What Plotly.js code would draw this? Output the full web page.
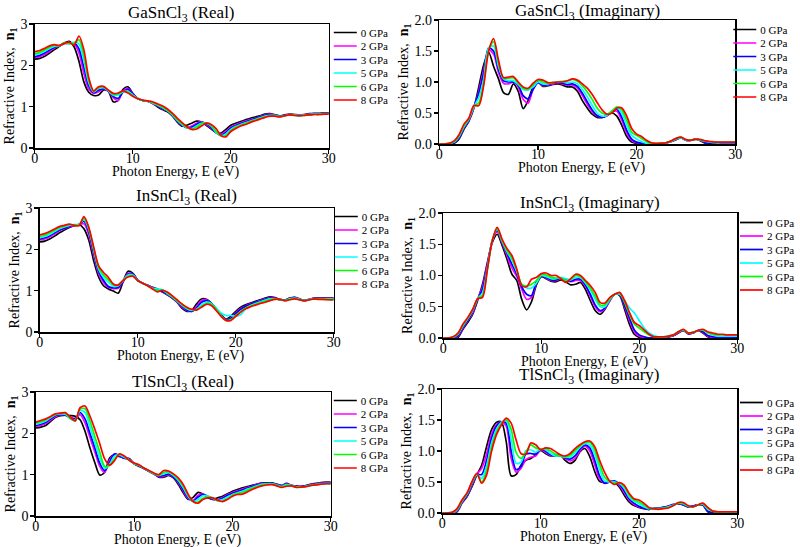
<!DOCTYPE html>
<html><head><meta charset="utf-8">
<script src="https://cdn.plot.ly/plotly-3.0.1.min.js"></script>
<style>html,body{margin:0;padding:0;background:#fff}#chart{width:800px;height:547px}</style>
</head><body><div id="chart"></div>
<script>
// Photon energy grid (eV)
const energy = [0,0.5,1,1.5,2,2.5,3,3.5,4,4.5,5,5.5,6,6.5,7,7.5,8,8.5,9,9.5,10,10.5,11,11.5,12,12.5,13,13.5,14,14.5,15,15.5,16,16.5,17,17.5,18,18.5,19,19.5,20,20.5,21,21.5,22,22.5,23,23.5,24,24.5,25,25.5,26,26.5,27,27.5,28,28.5,29,29.5,30];
const pressures = ['0 GPa','2 GPa','3 GPa','5 GPa','6 GPa','8 GPa'];
const panelTitles = ['GaSnCl<sub>3</sub> (Real)','GaSnCl<sub>3</sub> (Imaginary)','InSnCl<sub>3</sub> (Real)','InSnCl<sub>3</sub> (Imaginary)','TlSnCl<sub>3</sub> (Real)','TlSnCl<sub>3</sub> (Imaginary)'];
const xTitle = 'Photon Energy, E (eV)';
const yTitle = 'Refractive Index,  <b>n<sub>1</sub></b>';

// GaSnCl3 real part
const gaRe0 = [2.15,2.17,2.22,2.30,2.38,2.46,2.54,2.58,2.45,2.10,1.60,1.35,1.27,1.28,1.40,1.37,1.12,1.15,1.42,1.48,1.32,1.20,1.15,1.13,1.08,1.00,0.93,0.88,0.78,0.64,0.53,0.55,0.60,0.65,0.63,0.55,0.46,0.38,0.36,0.45,0.55,0.60,0.64,0.68,0.72,0.75,0.78,0.82,0.83,0.80,0.78,0.80,0.82,0.81,0.80,0.81,0.83,0.84,0.84,0.85,0.85];
const gaRe2 = [2.19,2.21,2.26,2.34,2.42,2.47,2.53,2.55,2.52,2.30,1.80,1.42,1.32,1.36,1.42,1.38,1.22,1.15,1.38,1.44,1.32,1.20,1.15,1.13,1.08,1.02,0.95,0.90,0.80,0.66,0.55,0.50,0.53,0.60,0.63,0.57,0.48,0.38,0.33,0.40,0.50,0.56,0.61,0.65,0.69,0.72,0.76,0.80,0.82,0.80,0.77,0.79,0.81,0.80,0.79,0.80,0.82,0.83,0.83,0.84,0.84];
const gaRe3 = [2.21,2.24,2.30,2.37,2.44,2.48,2.53,2.53,2.54,2.40,1.95,1.50,1.34,1.40,1.43,1.38,1.25,1.20,1.35,1.42,1.31,1.20,1.15,1.13,1.09,1.03,0.96,0.90,0.80,0.67,0.56,0.49,0.50,0.57,0.62,0.59,0.50,0.37,0.31,0.37,0.48,0.54,0.59,0.63,0.67,0.71,0.75,0.79,0.81,0.80,0.77,0.79,0.81,0.80,0.79,0.80,0.81,0.82,0.82,0.83,0.83];
const gaRe5 = [2.25,2.29,2.34,2.41,2.46,2.48,2.54,2.52,2.56,2.52,2.12,1.58,1.36,1.44,1.46,1.38,1.28,1.28,1.36,1.37,1.28,1.20,1.15,1.13,1.09,1.04,0.98,0.91,0.81,0.68,0.57,0.49,0.47,0.53,0.60,0.60,0.53,0.38,0.30,0.34,0.45,0.52,0.57,0.61,0.65,0.69,0.73,0.77,0.79,0.79,0.76,0.78,0.81,0.80,0.79,0.80,0.81,0.82,0.82,0.83,0.83];
const gaRe6 = [2.28,2.32,2.37,2.44,2.48,2.47,2.55,2.53,2.53,2.62,2.25,1.64,1.37,1.46,1.48,1.40,1.30,1.31,1.37,1.35,1.26,1.19,1.15,1.13,1.10,1.05,0.99,0.92,0.82,0.70,0.59,0.50,0.46,0.50,0.58,0.61,0.55,0.40,0.29,0.30,0.42,0.50,0.55,0.60,0.64,0.68,0.72,0.76,0.78,0.78,0.76,0.78,0.80,0.79,0.78,0.79,0.80,0.81,0.81,0.82,0.82];
const gaRe8 = [2.33,2.36,2.41,2.47,2.50,2.48,2.53,2.56,2.49,2.71,2.38,1.70,1.38,1.48,1.49,1.40,1.32,1.33,1.38,1.33,1.25,1.19,1.16,1.14,1.12,1.07,1.02,0.95,0.85,0.73,0.62,0.52,0.45,0.46,0.53,0.60,0.57,0.47,0.30,0.27,0.40,0.47,0.53,0.57,0.62,0.66,0.70,0.74,0.77,0.77,0.75,0.78,0.80,0.79,0.78,0.79,0.80,0.81,0.81,0.82,0.82];

// GaSnCl3 imaginary part
const gaIm0 = [0,0,0,0.01,0.08,0.24,0.37,0.58,0.92,1.28,1.48,1.25,1.05,0.83,0.80,0.97,0.85,0.57,0.70,0.92,1.00,0.93,0.94,0.96,0.97,0.95,0.92,0.92,0.85,0.70,0.58,0.48,0.43,0.43,0.46,0.50,0.45,0.30,0.12,0.03,0.01,0,0,0,0,0.01,0.02,0.04,0.07,0.10,0.06,0.06,0.08,0.05,0.01,0,0,0,0,0,0];
const gaIm2 = [0,0,0,0.02,0.10,0.26,0.38,0.58,0.85,1.20,1.52,1.45,1.15,0.98,0.97,1.00,0.92,0.72,0.66,0.88,0.99,0.94,0.95,0.97,0.98,0.97,0.95,0.95,0.90,0.78,0.64,0.52,0.45,0.43,0.46,0.52,0.53,0.38,0.18,0.06,0.02,0.01,0,0,0,0.01,0.02,0.04,0.08,0.10,0.06,0.06,0.08,0.06,0.02,0.01,0.01,0.01,0.01,0.01,0.01];
const gaIm3 = [0,0,0,0.02,0.10,0.27,0.39,0.60,0.82,1.15,1.55,1.50,1.20,1.02,1.00,1.00,0.95,0.78,0.73,0.88,0.99,0.95,0.96,0.98,0.99,0.98,0.96,0.97,0.93,0.82,0.68,0.55,0.46,0.43,0.46,0.53,0.56,0.43,0.22,0.08,0.03,0.01,0,0,0,0.01,0.02,0.04,0.08,0.10,0.06,0.06,0.08,0.06,0.02,0.01,0.01,0.01,0.01,0.01,0.01];
const gaIm5 = [0,0,0.01,0.03,0.12,0.28,0.40,0.60,0.75,1.05,1.55,1.58,1.25,1.05,1.02,1.02,0.96,0.88,0.87,0.92,1.00,0.97,0.97,0.99,1.00,1.00,0.99,1.00,0.97,0.88,0.76,0.62,0.50,0.45,0.46,0.53,0.58,0.50,0.30,0.14,0.08,0.04,0.01,0,0,0.01,0.02,0.04,0.08,0.10,0.06,0.06,0.08,0.06,0.04,0.03,0.02,0.02,0.02,0.02,0.02];
const gaIm6 = [0,0,0.01,0.04,0.14,0.30,0.41,0.61,0.66,0.98,1.52,1.65,1.30,1.06,1.06,1.07,0.98,0.90,0.89,0.96,1.03,1.00,0.98,0.99,1.00,1.01,1.02,1.04,1.01,0.94,0.84,0.72,0.58,0.50,0.48,0.53,0.60,0.55,0.38,0.19,0.14,0.09,0.04,0.01,0.01,0.01,0.02,0.05,0.09,0.11,0.07,0.06,0.08,0.07,0.05,0.03,0.03,0.03,0.03,0.03,0.03];
const gaIm8 = [0,0,0.01,0.05,0.15,0.32,0.42,0.62,0.62,0.95,1.50,1.70,1.35,1.07,1.08,1.09,1.00,0.92,0.90,0.98,1.04,1.03,0.99,0.99,1.00,1.00,1.02,1.05,1.03,0.97,0.90,0.80,0.67,0.55,0.48,0.50,0.58,0.58,0.45,0.25,0.16,0.12,0.06,0.02,0.01,0.01,0.02,0.05,0.09,0.11,0.07,0.06,0.08,0.07,0.05,0.04,0.03,0.03,0.03,0.03,0.03];

// InSnCl3 real part
const inRe0 = [2.18,2.20,2.25,2.32,2.40,2.47,2.53,2.57,2.60,2.50,2.22,1.72,1.33,1.12,1.04,0.99,0.94,1.22,1.47,1.42,1.25,1.18,1.13,1.08,1.04,0.97,0.90,0.82,0.72,0.58,0.50,0.52,0.68,0.80,0.79,0.70,0.56,0.42,0.31,0.38,0.50,0.60,0.66,0.70,0.74,0.78,0.82,0.85,0.83,0.79,0.77,0.82,0.84,0.80,0.76,0.79,0.82,0.82,0.82,0.82,0.82];
const inRe2 = [2.23,2.25,2.30,2.37,2.45,2.50,2.55,2.58,2.60,2.62,2.35,1.85,1.42,1.20,1.08,1.05,1.06,1.22,1.42,1.40,1.25,1.18,1.13,1.08,1.02,0.98,0.91,0.83,0.73,0.61,0.52,0.50,0.62,0.76,0.78,0.68,0.55,0.40,0.30,0.34,0.47,0.57,0.63,0.68,0.72,0.76,0.80,0.83,0.82,0.78,0.77,0.81,0.83,0.79,0.76,0.79,0.81,0.81,0.81,0.81,0.81];
const inRe3 = [2.25,2.28,2.33,2.40,2.47,2.51,2.56,2.59,2.60,2.68,2.42,1.92,1.47,1.25,1.10,1.07,1.08,1.22,1.40,1.40,1.25,1.18,1.13,1.07,1.02,0.98,0.92,0.84,0.74,0.63,0.53,0.50,0.58,0.72,0.76,0.70,0.56,0.40,0.29,0.33,0.45,0.55,0.62,0.67,0.71,0.75,0.79,0.82,0.81,0.78,0.77,0.81,0.83,0.79,0.76,0.79,0.81,0.81,0.81,0.81,0.81];
const inRe5 = [2.28,2.31,2.36,2.43,2.50,2.54,2.58,2.60,2.60,2.72,2.48,1.98,1.52,1.32,1.20,1.10,1.12,1.25,1.38,1.38,1.24,1.18,1.12,1.06,1.04,1.02,0.93,0.85,0.75,0.65,0.56,0.52,0.55,0.66,0.72,0.69,0.58,0.46,0.40,0.40,0.38,0.42,0.56,0.64,0.69,0.73,0.77,0.80,0.80,0.78,0.76,0.80,0.82,0.79,0.76,0.79,0.81,0.80,0.80,0.80,0.80];
const inRe6 = [2.31,2.34,2.40,2.46,2.53,2.56,2.60,2.59,2.59,2.76,2.50,2.02,1.56,1.38,1.26,1.14,1.13,1.25,1.35,1.36,1.24,1.18,1.12,1.05,1.00,1.02,0.95,0.86,0.76,0.67,0.58,0.54,0.54,0.62,0.69,0.67,0.55,0.40,0.28,0.30,0.40,0.50,0.58,0.63,0.67,0.71,0.75,0.78,0.80,0.79,0.76,0.79,0.81,0.78,0.76,0.78,0.80,0.80,0.79,0.79,0.79];
const inRe8 = [2.35,2.38,2.43,2.49,2.55,2.58,2.61,2.58,2.57,2.79,2.53,2.05,1.60,1.44,1.32,1.16,1.14,1.25,1.33,1.35,1.24,1.18,1.12,1.04,0.97,1.01,0.97,0.88,0.78,0.68,0.60,0.55,0.53,0.60,0.67,0.64,0.52,0.38,0.28,0.28,0.38,0.48,0.56,0.61,0.65,0.69,0.72,0.76,0.79,0.79,0.76,0.78,0.80,0.78,0.76,0.78,0.80,0.79,0.79,0.78,0.78];

// InSnCl3 imaginary part
const inIm0 = [0,0,0,0.01,0.14,0.25,0.38,0.60,0.86,1.21,1.53,1.66,1.48,1.26,1.02,0.92,0.62,0.45,0.58,0.85,0.98,0.95,0.91,0.90,0.93,0.90,0.85,0.86,0.89,0.78,0.60,0.44,0.38,0.46,0.60,0.70,0.68,0.46,0.22,0.06,0.01,0,0,0,0,0.01,0.02,0.04,0.08,0.12,0.07,0.08,0.12,0.08,0.02,0,0,0,0,0,0];
const inIm2 = [0,0,0,0.03,0.16,0.28,0.40,0.62,0.82,1.18,1.55,1.70,1.52,1.32,1.12,0.98,0.78,0.62,0.65,0.88,1.00,0.96,0.92,0.92,0.95,0.92,0.90,0.92,0.92,0.83,0.67,0.50,0.42,0.47,0.60,0.70,0.70,0.50,0.28,0.10,0.03,0.01,0,0,0,0.01,0.02,0.04,0.08,0.12,0.07,0.08,0.12,0.09,0.03,0.01,0.01,0.01,0.01,0.01,0.01];
const inIm3 = [0,0,0.01,0.04,0.17,0.29,0.42,0.62,0.78,1.15,1.56,1.72,1.54,1.36,1.18,1.02,0.82,0.70,0.68,0.90,1.00,0.97,0.93,0.93,0.96,0.94,0.91,0.94,0.94,0.85,0.70,0.53,0.44,0.48,0.62,0.70,0.70,0.52,0.32,0.13,0.05,0.02,0,0,0,0.01,0.02,0.04,0.09,0.12,0.07,0.08,0.12,0.10,0.04,0.02,0.01,0.01,0.01,0.01,0.01];
const inIm5 = [0,0,0.01,0.06,0.19,0.31,0.44,0.63,0.72,1.12,1.57,1.74,1.55,1.38,1.25,1.06,0.86,0.80,0.80,0.88,1.00,0.98,0.95,0.95,0.97,0.95,0.93,0.97,0.97,0.88,0.77,0.62,0.50,0.50,0.62,0.70,0.70,0.60,0.48,0.40,0.28,0.16,0.08,0.04,0.02,0.02,0.03,0.05,0.10,0.13,0.08,0.09,0.12,0.13,0.08,0.05,0.03,0.03,0.03,0.03,0.03];
const inIm6 = [0,0,0.02,0.07,0.21,0.32,0.45,0.63,0.68,1.10,1.56,1.75,1.56,1.40,1.28,1.08,0.86,0.83,0.86,0.92,1.02,1.01,0.97,0.96,0.96,0.92,0.94,1.00,0.98,0.90,0.80,0.67,0.53,0.53,0.63,0.70,0.72,0.57,0.38,0.22,0.16,0.10,0.05,0.02,0.02,0.02,0.03,0.05,0.10,0.13,0.08,0.09,0.12,0.13,0.09,0.06,0.05,0.05,0.05,0.05,0.05];
const inIm8 = [0,0,0.02,0.08,0.22,0.33,0.46,0.63,0.65,1.10,1.56,1.77,1.58,1.43,1.32,1.10,0.84,0.82,0.94,0.97,1.03,1.04,1.00,1.00,0.95,0.89,0.95,1.02,1.00,0.92,0.84,0.73,0.57,0.56,0.65,0.70,0.73,0.60,0.41,0.25,0.20,0.13,0.06,0.02,0.02,0.02,0.03,0.05,0.10,0.14,0.08,0.09,0.12,0.14,0.10,0.08,0.06,0.06,0.05,0.05,0.05];

// TlSnCl3 real part
const tlRe0 = [2.13,2.15,2.19,2.29,2.39,2.43,2.44,2.43,2.41,2.33,2.05,1.65,1.29,0.99,1.06,1.40,1.48,1.44,1.40,1.39,1.26,1.20,1.15,1.08,1.02,0.94,0.94,0.98,0.92,0.76,0.56,0.40,0.45,0.57,0.53,0.44,0.40,0.44,0.48,0.54,0.60,0.64,0.68,0.71,0.74,0.77,0.80,0.80,0.80,0.77,0.74,0.79,0.74,0.73,0.72,0.74,0.77,0.79,0.81,0.82,0.82];
const tlRe2 = [2.17,2.19,2.24,2.32,2.41,2.44,2.44,2.40,2.36,2.45,2.25,1.90,1.55,1.20,1.05,1.35,1.50,1.45,1.40,1.38,1.27,1.21,1.15,1.08,1.02,0.96,0.96,1.00,0.94,0.80,0.60,0.42,0.38,0.50,0.53,0.47,0.40,0.40,0.45,0.52,0.57,0.61,0.65,0.69,0.72,0.76,0.79,0.79,0.79,0.76,0.73,0.78,0.74,0.72,0.71,0.73,0.76,0.78,0.80,0.81,0.81];
const tlRe3 = [2.19,2.22,2.27,2.35,2.43,2.45,2.44,2.37,2.35,2.50,2.35,2.00,1.65,1.28,1.10,1.30,1.50,1.46,1.40,1.37,1.27,1.22,1.15,1.08,1.02,0.97,0.98,1.02,0.95,0.82,0.63,0.44,0.36,0.46,0.52,0.48,0.41,0.38,0.43,0.50,0.55,0.59,0.63,0.67,0.71,0.75,0.78,0.79,0.79,0.76,0.72,0.77,0.74,0.71,0.71,0.73,0.75,0.77,0.79,0.80,0.80];
const tlRe5 = [2.22,2.25,2.30,2.38,2.45,2.47,2.46,2.35,2.32,2.55,2.50,2.15,1.78,1.40,1.15,1.25,1.45,1.48,1.42,1.36,1.27,1.23,1.16,1.09,1.03,0.98,1.02,1.05,0.98,0.86,0.68,0.47,0.35,0.40,0.49,0.48,0.43,0.37,0.40,0.46,0.52,0.56,0.60,0.65,0.69,0.73,0.77,0.78,0.78,0.75,0.71,0.76,0.74,0.70,0.70,0.72,0.75,0.76,0.78,0.79,0.79];
const tlRe6 = [2.25,2.28,2.33,2.40,2.46,2.48,2.48,2.36,2.30,2.58,2.60,2.30,1.92,1.55,1.20,1.22,1.38,1.50,1.44,1.35,1.27,1.23,1.16,1.09,1.03,0.99,1.06,1.07,1.00,0.89,0.72,0.50,0.35,0.34,0.43,0.46,0.44,0.37,0.36,0.42,0.50,0.54,0.57,0.62,0.67,0.71,0.75,0.77,0.77,0.74,0.70,0.74,0.73,0.70,0.70,0.72,0.74,0.76,0.77,0.78,0.78];
const tlRe8 = [2.27,2.31,2.35,2.41,2.47,2.49,2.50,2.39,2.30,2.62,2.66,2.42,2.10,1.75,1.38,1.23,1.34,1.50,1.45,1.35,1.28,1.24,1.16,1.10,1.04,1.00,1.10,1.09,1.02,0.92,0.76,0.52,0.35,0.31,0.40,0.44,0.44,0.38,0.35,0.40,0.48,0.52,0.53,0.58,0.64,0.69,0.73,0.75,0.76,0.73,0.69,0.72,0.73,0.69,0.70,0.71,0.74,0.75,0.77,0.78,0.78];

// TlSnCl3 imaginary part
const tlIm0 = [0,0,0,0.02,0.16,0.26,0.42,0.61,0.77,1.07,1.34,1.46,1.47,1.15,0.60,0.62,0.77,0.85,0.88,0.94,1.01,0.96,0.92,0.93,0.94,0.85,0.80,0.85,0.99,1.04,0.91,0.67,0.51,0.49,0.51,0.49,0.42,0.29,0.18,0.12,0.09,0.07,0.06,0.07,0.08,0.09,0.10,0.13,0.15,0.13,0.10,0.11,0.13,0.13,0.02,0,0,0,0,0,0];
const tlIm2 = [0,0,0,0.03,0.17,0.27,0.44,0.62,0.72,0.95,1.27,1.42,1.47,1.40,0.88,0.66,0.72,0.86,0.90,0.92,1.02,0.98,0.93,0.92,0.92,0.88,0.84,0.88,1.00,1.08,1.00,0.78,0.55,0.48,0.50,0.50,0.45,0.33,0.21,0.14,0.10,0.08,0.06,0.07,0.08,0.09,0.11,0.13,0.15,0.14,0.10,0.11,0.13,0.13,0.03,0.01,0.01,0.01,0.01,0.01,0.01];
const tlIm3 = [0,0,0,0.04,0.18,0.28,0.46,0.62,0.62,0.85,1.20,1.40,1.47,1.45,1.00,0.70,0.75,0.95,0.96,0.95,1.03,1.00,0.94,0.92,0.92,0.89,0.87,0.92,1.03,1.10,1.05,0.85,0.60,0.48,0.50,0.52,0.47,0.36,0.23,0.16,0.11,0.08,0.06,0.07,0.08,0.09,0.11,0.14,0.15,0.14,0.10,0.11,0.13,0.13,0.03,0.01,0.01,0.01,0.01,0.01,0.01];
const tlIm5 = [0,0,0,0.05,0.19,0.30,0.48,0.62,0.56,0.75,1.12,1.35,1.46,1.49,1.20,0.80,0.82,1.00,1.02,0.98,1.03,1.02,0.96,0.92,0.92,0.90,0.90,0.97,1.06,1.12,1.10,0.95,0.70,0.52,0.50,0.50,0.48,0.40,0.26,0.19,0.15,0.10,0.07,0.07,0.07,0.08,0.10,0.13,0.16,0.15,0.11,0.10,0.13,0.14,0.06,0.03,0.02,0.02,0.02,0.02,0.02];
const tlIm6 = [0,0,0.01,0.06,0.20,0.31,0.49,0.63,0.50,0.68,1.05,1.30,1.44,1.51,1.35,0.98,0.88,0.98,1.10,1.05,1.03,1.04,1.00,0.95,0.92,0.91,0.93,1.01,1.08,1.14,1.14,1.02,0.78,0.58,0.51,0.48,0.49,0.43,0.29,0.21,0.18,0.13,0.08,0.07,0.07,0.08,0.09,0.12,0.16,0.16,0.11,0.10,0.13,0.15,0.08,0.03,0.02,0.02,0.02,0.02,0.02];
const tlIm8 = [0,0,0.01,0.07,0.21,0.32,0.50,0.64,0.48,0.61,0.99,1.26,1.42,1.53,1.45,1.18,0.96,0.95,1.13,1.10,1.02,1.05,1.04,0.99,0.94,0.92,0.96,1.04,1.10,1.15,1.16,1.07,0.85,0.66,0.52,0.46,0.49,0.45,0.32,0.23,0.21,0.16,0.09,0.07,0.06,0.07,0.08,0.12,0.17,0.17,0.12,0.10,0.13,0.16,0.09,0.03,0.02,0.02,0.02,0.02,0.02];

const panelSeries = [
  [gaRe0,gaRe2,gaRe3,gaRe5,gaRe6,gaRe8],
  [gaIm0,gaIm2,gaIm3,gaIm5,gaIm6,gaIm8],
  [inRe0,inRe2,inRe3,inRe5,inRe6,inRe8],
  [inIm0,inIm2,inIm3,inIm5,inIm6,inIm8],
  [tlRe0,tlRe2,tlRe3,tlRe5,tlRe6,tlRe8],
  [tlIm0,tlIm2,tlIm3,tlIm5,tlIm6,tlIm8]
];

// ---- styling / layout (pixels of the 800x547 canvas) ----
const W = 800, H = 547;
const colors = ['#000000','#ff00ff','#0000ff','#00ffff','#00ff00','#ff0000'];
const FONT = 'Liberation Serif, Times New Roman, Times, serif';
const boxes = [ // [left, right, top, bottom]
  [35,330,24,148],[441,738,20,144],
  [40,335,208,332],[445,740,213,338],
  [36,332,392,516],[444,740,389,513]
];
const titleMidY = [14,12.5,197,204,383,376];
const legendPos = [[322,18],[723,15],[323,202],[730,208],[322,386],[730,388]];
const LEG_STEP = 13.5;
const isImag = [false,true,false,true,false,true];

const traces = [];
const layout = {
  width: W, height: H,
  margin: {l:0,r:0,t:0,b:0},
  paper_bgcolor: '#fff', plot_bgcolor: '#fff',
  font: {family: FONT, color: '#000'},
  showlegend: true,
  annotations: []
};

panelSeries.forEach((series, i) => {
  const n = i + 1;
  const sfx = n === 1 ? '' : String(n);
  const legKey = 'legend' + sfx;
  const b = boxes[i];
  series.forEach((ys, j) => {
    traces.push({
      type: 'scatter', mode: 'lines',
      x: energy, y: ys, name: pressures[j],
      xaxis: 'x' + sfx, yaxis: 'y' + sfx, legend: legKey,
      line: {color: colors[j], width: 1.7, shape: 'spline', smoothing: 0.8}
    });
  });
  const axBase = {
    showline: true, mirror: true, linecolor: '#000', linewidth: 1.5,
    ticks: 'outside', ticklen: 4, tickwidth: 1.2, tickcolor: '#000',
    showgrid: false, zeroline: false, automargin: false,
    tickfont: {family: FONT, size: 14, color: '#000'}
  };
  layout['xaxis' + sfx] = Object.assign({}, axBase, {
    domain: [b[0]/W, b[1]/W], anchor: 'y' + sfx,
    range: [0, 30], tick0: 0, dtick: 10, ticklabelstandoff: -7
  });
  layout['yaxis' + sfx] = Object.assign({}, axBase, {
    domain: [1 - b[3]/H, 1 - b[2]/H], anchor: 'x' + sfx,
    range: isImag[i] ? [0, 2] : [0, 3],
    tick0: 0, dtick: isImag[i] ? 0.5 : 1,
    tickformat: isImag[i] ? '.1f' : 'd', ticklabelstandoff: -1,
    title: {text: yTitle, font: {family: FONT, size: 14}, standoff: 2}
  });
  layout[legKey] = {
    x: legendPos[i][0]/W, y: 1 - legendPos[i][1]/H,
    xanchor: 'left', yanchor: 'top',
    bgcolor: 'rgba(0,0,0,0)', borderwidth: 0,
    font: {family: FONT, size: 11, color: '#000'},
    itemwidth: 30, tracegroupgap: 0
  };
  // panel title
  layout.annotations.push({
    xref: 'paper', yref: 'paper',
    x: (b[0] + b[1]) / 2 / W, y: 1 - titleMidY[i]/H,
    xanchor: 'center', yanchor: 'middle',
    showarrow: false, text: panelTitles[i],
    font: {family: FONT, size: 17, color: '#000'}
  });
  // x-axis title
  layout.annotations.push({
    xref: 'paper', yref: 'paper',
    x: ((b[0] + b[1]) / 2 - 6) / W, y: 1 - (b[3] + 24)/H,
    xanchor: 'center', yanchor: 'middle',
    showarrow: false, text: xTitle,
    font: {family: FONT, size: 14, color: '#000'}
  });
});

// tighten legend rows and shorten the legend line samples
function tightenLegends(gd) {
  gd.querySelectorAll('.infolayer > g').forEach(g => {
    if (!/^legend\d*$/.test(g.getAttribute('class') || '')) return;
    const items = g.querySelectorAll('g.traces');
    let x0 = null, y0 = null;
    items.forEach((it, k) => {
      const m = /translate\(\s*([-\d.eE]+)[\s,]+([-\d.eE]+)\s*\)/.exec(it.getAttribute('transform') || '');
      if (!m) return;
      if (y0 === null) { x0 = +m[1]; y0 = +m[2]; }
      it.setAttribute('transform', 'translate(' + x0 + ',' + (y0 + k * LEG_STEP) + ')');
    });
    g.querySelectorAll('path.js-line').forEach(p => p.setAttribute('d', 'M13,0h23'));
  });
}

Plotly.newPlot('chart', traces, layout, {staticPlot: true, displayModeBar: false}).then(gd => {
  tightenLegends(gd);
  gd.on && gd.on('plotly_afterplot', () => tightenLegends(gd));
});
</script>
</body></html>
